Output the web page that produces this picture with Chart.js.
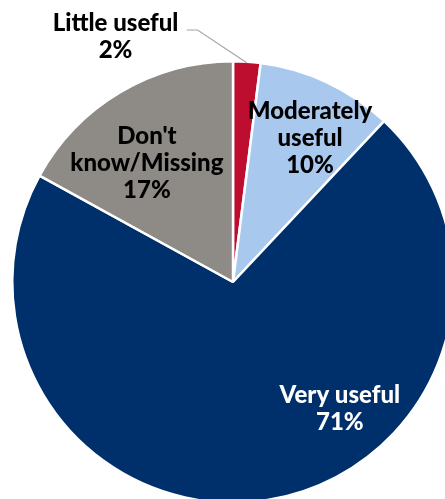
<!DOCTYPE html>
<html>
<head>
<meta charset="utf-8">
<script src="https://cdn.jsdelivr.net/npm/chart.js@4"></script>
<style>
  html, body { margin: 0; padding: 0; background: #ffffff; overflow: hidden; }
  #wrap { position: absolute; left: 0; top: 0; width: 480px; height: 540px; }
</style>
</head>
<body>
<div id="wrap"><canvas id="chart" width="480" height="540"></canvas></div>
<script>
// Usefulness ratings (percent of respondents)
const categories = ['Little useful', 'Moderately useful', 'Very useful', "Don't know/Missing"];
const shares = [2, 10, 71, 17];
const sliceColors = ['#BE0E30', '#A8C8EE', '#00306B', '#8E8A85'];

// Text shown on each slice (name lines + value)
const labelLines = [
  ['Little useful'],
  ['Moderately', 'useful'],
  ['Very useful'],
  ["Don't", 'know/Missing']
];
const labelColors = ['#000000', '#000000', '#ffffff', '#000000'];
// Placement of each label block (first baseline), relative to the pie centre in radius units
const labelAnchors = [
  { dx: -0.532, dy: -1.137 },
  { dx: 0.349, dy: -0.738 },
  { dx: 0.484, dy: 0.548 },
  { dx: -0.390, dy: -0.627 }
];

const FONT = '900 24px Lato, "Open Sans", sans-serif';
const LINE_H = 27;

const sliceLabels = {
  id: 'sliceLabels',
  afterDatasetsDraw(chart) {
    const ctx = chart.ctx;
    const arcs = chart.getDatasetMeta(0).data;
    const cx = arcs[0].x, cy = arcs[0].y, R = arcs[0].outerRadius;

    // leader line for the small outside label
    const a0 = arcs[0];
    const mid = (a0.startAngle + a0.endAngle) / 2;
    const anchor = labelAnchors[0];
    const sx = cx + anchor.dx * R + 71;
    const sy = cy + anchor.dy * R - 1;
    ctx.save();
    ctx.strokeStyle = '#A6A6A6';
    ctx.lineWidth = 1.2;
    ctx.beginPath();
    ctx.moveTo(sx, sy);
    ctx.lineTo(sx + 11, sy);
    ctx.lineTo(cx + Math.cos(mid) * R * 0.995, cy + Math.sin(mid) * R * 0.995);
    ctx.stroke();
    ctx.restore();

    ctx.save();
    ctx.font = FONT;
    ctx.textAlign = 'center';
    ctx.textBaseline = 'alphabetic';
    shares.forEach((v, i) => {
      const lines = labelLines[i].concat([v + '%']);
      const x = cx + labelAnchors[i].dx * R;
      const y = cy + labelAnchors[i].dy * R;
      ctx.fillStyle = labelColors[i];
      lines.forEach((t, k) => ctx.fillText(t, x, y + k * LINE_H));
    });
    ctx.restore();
  }
};

new Chart(document.getElementById('chart'), {
  type: 'pie',
  data: {
    labels: categories,
    datasets: [{
      data: shares,
      backgroundColor: sliceColors,
      borderColor: '#ffffff',
      borderWidth: 2.5
    }]
  },
  options: {
    responsive: false,
    devicePixelRatio: 1,
    animation: false,
    layout: { padding: { left: 11, top: 60, right: 25, bottom: 36 } },
    plugins: {
      legend: { display: false },
      tooltip: { enabled: false }
    }
  },
  plugins: [sliceLabels]
});
</script>
</body>
</html>
